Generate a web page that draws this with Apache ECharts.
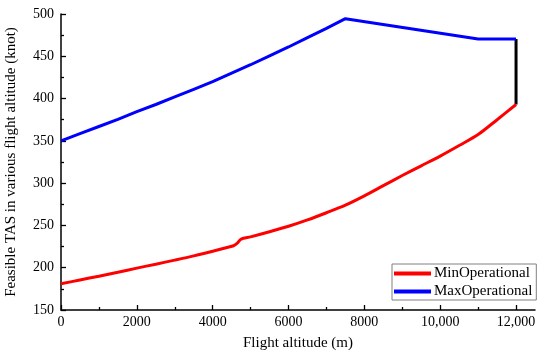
<!DOCTYPE html>
<html>
<head>
<meta charset="utf-8">
<script src="https://cdn.jsdelivr.net/npm/echarts@6/dist/echarts.min.js"></script>
<style>html,body{margin:0;padding:0;background:#fff}#c{width:550px;height:355px}</style>
</head>
<body>
<div id="c"></div>
<script>
var minAlt = [0, 500, 1000, 1500, 2000, 2500, 3000, 3500, 4000, 4300, 4550, 4650, 4750, 5000, 5500, 6000, 6500, 7000, 7500, 8000, 8500, 9000, 9500, 10000, 10500, 11000, 11500, 12000];
var minTAS = [181, 185.5, 190, 194.7, 199.5, 204.2, 209, 214, 219.5, 223, 226, 229, 233.8, 236.5, 242.5, 249, 256.5, 265, 274, 285, 297, 309, 320.5, 332, 344.5, 357.5, 375, 393];
var maxAlt = [0, 500, 1000, 1500, 2000, 2500, 3000, 3500, 4000, 4500, 5000, 5500, 6000, 6500, 7000, 7500, 11000, 12000];
var maxTAS = [350, 358.5, 367, 375.5, 384.5, 393, 402, 411, 420, 430, 440, 450.5, 461, 472, 483, 494.5, 470.5, 470.5];
var limitAlt = [12000, 12000];
var limitTAS = [470.5, 393];
var xMajorTicks = [0, 2000, 4000, 6000, 8000, 10000, 12000];
var xMinorTicks = [1000, 3000, 5000, 7000, 9000, 11000];
var xTickLabels = ['0', '2000', '4000', '6000', '8000', '10,000', '12,000'];

function zip(a, b) { return a.map(function (v, i) { return [v, b[i]]; }); }

var font = 'Liberation Serif';
var chart = echarts.init(document.getElementById('c'), null, { renderer: 'canvas' });
chart.setOption({
  animation: false,
  backgroundColor: '#fff',
  grid: { left: 61, right: 15, top: 14, bottom: 45, containLabel: false, outerBoundsMode: 'none' },
  legend: {
    orient: 'vertical',
    left: 392,
    top: 264,
    data: ['MinOperational', 'MaxOperational'],
    icon: 'rect',
    itemWidth: 37,
    itemHeight: 4,
    itemGap: 3,
    padding: [2, 4, 1, 2],
    borderColor: '#808080',
    borderWidth: 1,
    borderRadius: 0,
    textStyle: { fontFamily: font, fontSize: 15, color: '#000', padding: [0, 0, 0, -2] }
  },
  xAxis: [{
    type: 'value',
    min: 0,
    max: 12500,
    interval: 1000,
    name: 'Flight altitude (m)',
    nameLocation: 'middle',
    nameGap: 26,
    nameTextStyle: { fontFamily: font, fontSize: 15, color: '#000' },
    axisLine: { onZero: false, lineStyle: { color: '#000', width: 1.5 } },
    axisTick: { inside: true, length: 5, customValues: xMajorTicks, lineStyle: { color: '#000', width: 1.3 } },
    axisLabel: {
      customValues: xMajorTicks,
      fontFamily: font, fontSize: 14, color: '#000', margin: 5,
      formatter: function (v) { var i = xMajorTicks.indexOf(v); return i >= 0 ? xTickLabels[i] : ''; }
    },
    splitLine: { show: false }
  }, {
    type: 'value',
    position: 'bottom',
    min: 0,
    max: 12500,
    interval: 1000,
    axisLine: { show: false, onZero: false },
    axisTick: { inside: true, length: 3, customValues: xMinorTicks, lineStyle: { color: '#000', width: 1.3 } },
    axisLabel: { show: false },
    splitLine: { show: false }
  }],
  yAxis: {
    type: 'value',
    min: 150,
    max: 500,
    interval: 50,
    name: 'Feasible TAS in various flight altitude (knot)',
    nameLocation: 'middle',
    nameGap: 42,
    nameTextStyle: { fontFamily: font, fontSize: 15, color: '#000' },
    axisLine: { show: true, onZero: false, lineStyle: { color: '#000', width: 1.5 } },
    axisTick: { show: true, inside: true, length: 5, lineStyle: { color: '#000', width: 1.3 } },
    minorTick: { show: true, splitNumber: 2, length: 3, lineStyle: { color: '#000', width: 1.3 } },
    axisLabel: { fontFamily: font, fontSize: 14, color: '#000', margin: 7 },
    splitLine: { show: false }
  },
  series: [{
    name: 'MinOperational',
    type: 'line',
    data: zip(minAlt, minTAS),
    symbol: 'none',
    smooth: 0.3,
    lineStyle: { color: '#ff0000', width: 3 },
    itemStyle: { color: '#ff0000' },
    z: 3
  }, {
    name: 'MaxOperational',
    type: 'line',
    data: zip(maxAlt, maxTAS),
    symbol: 'none',
    lineStyle: { color: '#0000ff', width: 3 },
    itemStyle: { color: '#0000ff' },
    z: 3
  }, {
    name: 'Limit',
    type: 'line',
    data: zip(limitAlt, limitTAS),
    symbol: 'none',
    lineStyle: { color: '#000', width: 3 },
    itemStyle: { color: '#000' },
    z: 2
  }]
});
</script>
</body>
</html>
